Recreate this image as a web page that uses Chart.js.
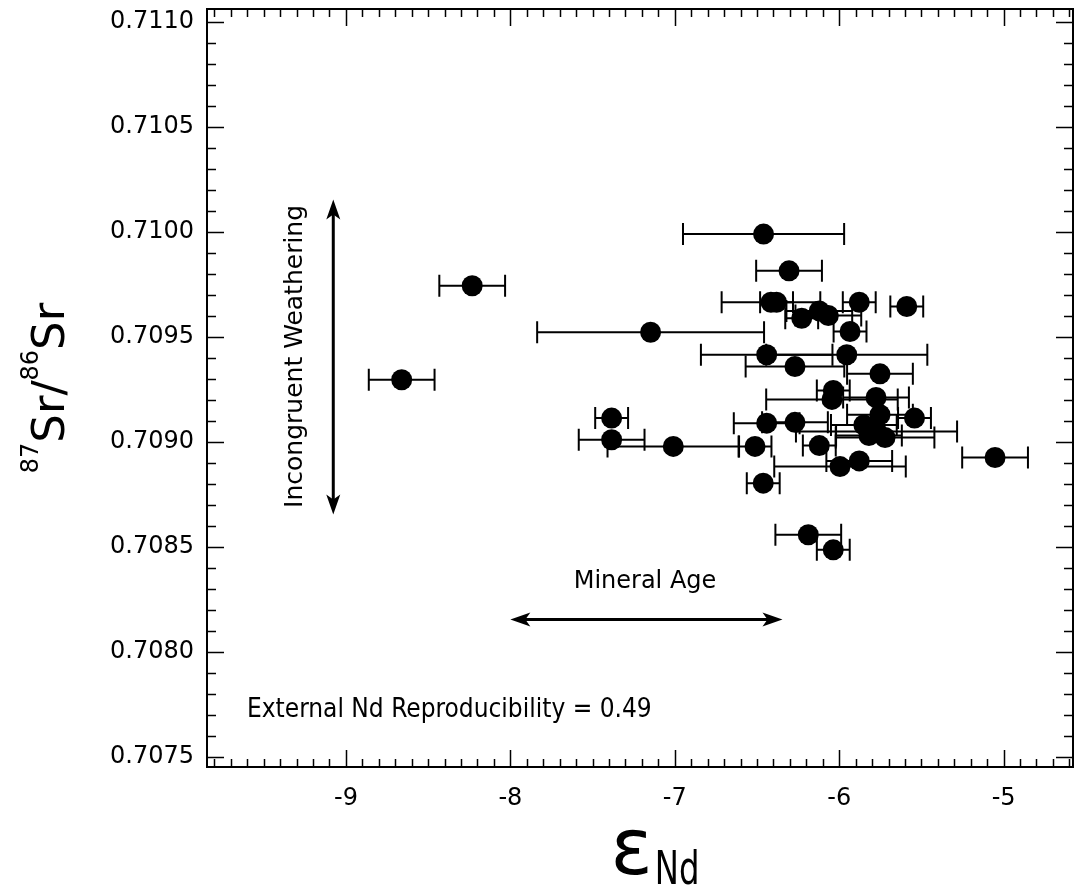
<!DOCTYPE html>
<html>
<head>
<meta charset="utf-8">
<script src="https://cdn.jsdelivr.net/npm/chart.js@4.4.1/dist/chart.umd.min.js"></script>
<style>
  html, body { margin: 0; padding: 0; background: #fff; }
  #wrap { width: 1075px; height: 888px; }
</style>
</head>
<body>
<div id="wrap"><canvas id="srNdChart" width="1075" height="888"></canvas></div>
<script>
// eNd, 87Sr/86Sr and the eNd uncertainty of each sample
const epsNd = [-6.46, -6.305, -8.232, -8.661, -7.147, -6.415, -6.381, -5.878, -6.228, -6.121,
  -6.066, -5.589, -5.934, -6.441, -5.954, -6.269, -5.752, -6.036, -6.044, -5.776,
  -7.384, -5.542, -5.752, -6.441, -6.269, -5.85, -5.773, -5.721, -5.819, -7.384,
  -7.009, -6.512, -6.462, -6.121, -5.995, -5.878, -5.052, -6.188, -6.036];
const srRatio = [0.70999, 0.709815, 0.709744, 0.709296, 0.709522, 0.709665, 0.709665, 0.709665, 0.709589, 0.709624,
  0.709602, 0.709645, 0.709526, 0.709415, 0.709415, 0.709359, 0.709324, 0.709245, 0.709202, 0.709211,
  0.709113, 0.709113, 0.709129, 0.709089, 0.709093, 0.70908, 0.709049, 0.70902, 0.70903, 0.70901,
  0.708978, 0.708978, 0.708803, 0.708982, 0.708882, 0.708909, 0.708925, 0.708557, 0.708485];
const epsNdErr = [0.49, 0.2, 0.2, 0.2, 0.69, 0.3, 0.1, 0.1, 0.1, 0.2,
  0.2, 0.1, 0.1, 0.4, 0.49, 0.3, 0.2, 0.1, 0.4, 0.2,
  0.1, 0.1, 0.2, 0.2, 0.2, 0.2, 0.49, 0.3, 0.2, 0.2,
  0.4, 0.1, 0.1, 0.1, 0.4, 0.2, 0.2, 0.2, 0.1];

const xTickValues = [-9, -8, -7, -6, -5];
const yTickValues = [0.7075, 0.7080, 0.7085, 0.7090, 0.7095, 0.7100, 0.7105, 0.7110];

const FONT = '"DejaVu Sans", Verdana, sans-serif';

// frame with inward major/minor ticks on all four sides
const frameTicks = {
  id: 'frameTicks',
  afterDraw(chart) {
    const { ctx, chartArea: a, scales: { x, y } } = chart;
    ctx.save();
    ctx.strokeStyle = '#000';
    ctx.lineWidth = 1.5;
    ctx.beginPath();
    for (let i = -98; i <= -46; i++) {
      const px = Math.round(x.getPixelForValue(i / 10)) + 0.5;
      const len = i % 10 === 0 ? 17 : 8;
      ctx.moveTo(px, a.bottom); ctx.lineTo(px, a.bottom - len);
      ctx.moveTo(px, a.top); ctx.lineTo(px, a.top + len);
    }
    for (let i = 7075; i <= 7110; i++) {
      const py = Math.round(y.getPixelForValue(i / 10000)) + 0.5;
      const len = i % 5 === 0 ? 17 : 9;
      ctx.moveTo(a.left, py); ctx.lineTo(a.left + len, py);
      ctx.moveTo(a.right, py); ctx.lineTo(a.right - len, py);
    }
    ctx.stroke();
    ctx.lineWidth = 2;
    ctx.strokeRect(a.left, a.top, a.right - a.left, a.bottom - a.top);
    ctx.restore();
  }
};

// horizontal error bars on eNd
const xErrorBars = {
  id: 'xErrorBars',
  beforeDatasetsDraw(chart) {
    const { ctx, scales: { x, y } } = chart;
    ctx.save();
    ctx.strokeStyle = '#000';
    ctx.lineWidth = 2;
    epsNd.forEach((v, i) => {
      const x0 = x.getPixelForValue(v - epsNdErr[i]);
      const x1 = x.getPixelForValue(v + epsNdErr[i]);
      const py = y.getPixelForValue(srRatio[i]);
      ctx.beginPath();
      ctx.moveTo(x0, py); ctx.lineTo(x1, py);
      ctx.moveTo(x0, py - 11); ctx.lineTo(x0, py + 11);
      ctx.moveTo(x1, py - 11); ctx.lineTo(x1, py + 11);
      ctx.stroke();
    });
    ctx.restore();
  }
};

function arrowHead(ctx, tx, ty, dx, dy) {
  // tip at (tx,ty), pointing along (dx,dy)
  const len = 20, half = 7;
  const bx = tx - dx * len, by = ty - dy * len;
  ctx.beginPath();
  ctx.moveTo(tx, ty);
  ctx.lineTo(bx - dy * half, by + dx * half);
  ctx.lineTo(bx + dx * 5, by + dy * 5);
  ctx.lineTo(bx + dy * half, by - dx * half);
  ctx.closePath();
  ctx.fill();
}

// arrows and text notes
const notes = {
  id: 'notes',
  afterDatasetsDraw(chart) {
    const { ctx, scales: { x, y } } = chart;
    ctx.save();
    ctx.fillStyle = '#000';
    ctx.strokeStyle = '#000';
    ctx.lineWidth = 3;

    // weathering arrow (vertical)
    const vx = x.getPixelForValue(-9.077);
    const vTop = y.getPixelForValue(0.710155), vBot = y.getPixelForValue(0.708653);
    ctx.beginPath(); ctx.moveTo(vx, vTop + 10); ctx.lineTo(vx, vBot - 10); ctx.stroke();
    arrowHead(ctx, vx, vTop, 0, -1);
    arrowHead(ctx, vx, vBot, 0, 1);

    // mineral age arrow (horizontal)
    const hy = y.getPixelForValue(0.708153);
    const hL = x.getPixelForValue(-8.0), hR = x.getPixelForValue(-6.345);
    ctx.beginPath(); ctx.moveTo(hL + 10, hy); ctx.lineTo(hR - 10, hy); ctx.stroke();
    arrowHead(ctx, hL, hy, -1, 0);
    arrowHead(ctx, hR, hy, 1, 0);

    ctx.textAlign = 'center';
    ctx.textBaseline = 'middle';
    ctx.font = '24px ' + FONT;
    ctx.fillText('Mineral Age', x.getPixelForValue(-7.181), y.getPixelForValue(0.708334));

    ctx.save();
    ctx.translate(x.getPixelForValue(-9.304), y.getPixelForValue(0.709407));
    ctx.rotate(-Math.PI / 2);
    ctx.font = '25px ' + FONT;
    ctx.fillText('Incongruent Weathering', 0, 0);
    ctx.restore();

    ctx.textAlign = 'left';
    ctx.font = '26px "DejaVu Sans Condensed", ' + FONT;
    ctx.fillText('External Nd Reproducibility = 0.49', x.getPixelForValue(-9.602), y.getPixelForValue(0.707719));
    ctx.restore();
  }
};

// axis titles with super/subscripts
const axisTitles = {
  id: 'axisTitles',
  afterDraw(chart) {
    const { ctx, chartArea: a } = chart;
    ctx.save();
    ctx.fillStyle = '#000';
    ctx.textBaseline = 'alphabetic';
    ctx.textAlign = 'left';

    // y title: 87Sr/86Sr, rotated
    const big = '45px ' + FONT, small = '24px ' + FONT;
    const parts = [['87', small, -26], ['Sr/', big, 0], ['86', small, -26], ['Sr', big, 0]];
    let total = 0;
    parts.forEach(p => { ctx.font = p[1]; total += ctx.measureText(p[0]).width; });
    ctx.translate(64, (a.top + a.bottom) / 2);
    ctx.rotate(-Math.PI / 2);
    let cx = -total / 2;
    parts.forEach(p => {
      ctx.font = p[1];
      ctx.fillText(p[0], cx, p[2]);
      cx += ctx.measureText(p[0]).width;
    });
    ctx.setTransform(1, 0, 0, 1, 0, 0);

    // x title: eNd
    const eFont = '78px ' + FONT;
    const ndFont = '46px "DejaVu Sans Condensed", ' + FONT;
    const squeeze = 0.78;
    ctx.font = eFont;
    const ew = ctx.measureText('ε').width;
    ctx.font = ndFont;
    const nw = ctx.measureText('Nd').width * squeeze;
    const startX = 655 - (ew + nw + 2) / 2;
    ctx.font = eFont;
    ctx.fillText('ε', startX, 874);
    ctx.font = ndFont;
    ctx.translate(startX + ew + 2, 884);
    ctx.scale(squeeze, 1);
    ctx.fillText('Nd', 0, 0);
    ctx.restore();
  }
};

new Chart(document.getElementById('srNdChart'), {
  type: 'scatter',
  data: {
    datasets: [{
      data: epsNd.map((v, i) => ({ x: v, y: srRatio[i] })),
      backgroundColor: '#000',
      borderWidth: 0,
      pointRadius: 10.5,
      pointHoverRadius: 10.5
    }]
  },
  options: {
    responsive: false,
    animation: false,
    layout: { autoPadding: false, padding: { top: 9, right: 2, left: 0, bottom: 0 } },
    plugins: { legend: { display: false }, tooltip: { enabled: false } },
    scales: {
      x: {
        type: 'linear',
        min: -9.845,
        max: -4.578,
        grid: { display: false, drawTicks: false },
        border: { display: false },
        afterBuildTicks: s => { s.ticks = xTickValues.map(v => ({ value: v })); },
        afterFit: s => { s.height = 121; s.paddingLeft = 0; s.paddingRight = 0; },
        ticks: {
          color: '#000',
          font: { family: FONT, size: 24 },
          padding: 17,
          maxRotation: 0,
          callback: v => String(v)
        }
      },
      y: {
        type: 'linear',
        min: 0.70745,
        max: 0.711063,
        grid: { display: false, drawTicks: false },
        border: { display: false },
        afterBuildTicks: s => { s.ticks = yTickValues.map(v => ({ value: v })); },
        afterFit: s => { s.width = 207; s.paddingTop = 0; s.paddingBottom = 0; },
        ticks: {
          color: '#000',
          font: { family: FONT, size: 24 },
          padding: 13,
          callback: v => v.toFixed(4)
        }
      }
    }
  },
  plugins: [xErrorBars, notes, frameTicks, axisTitles]
});
</script>
</body>
</html>
